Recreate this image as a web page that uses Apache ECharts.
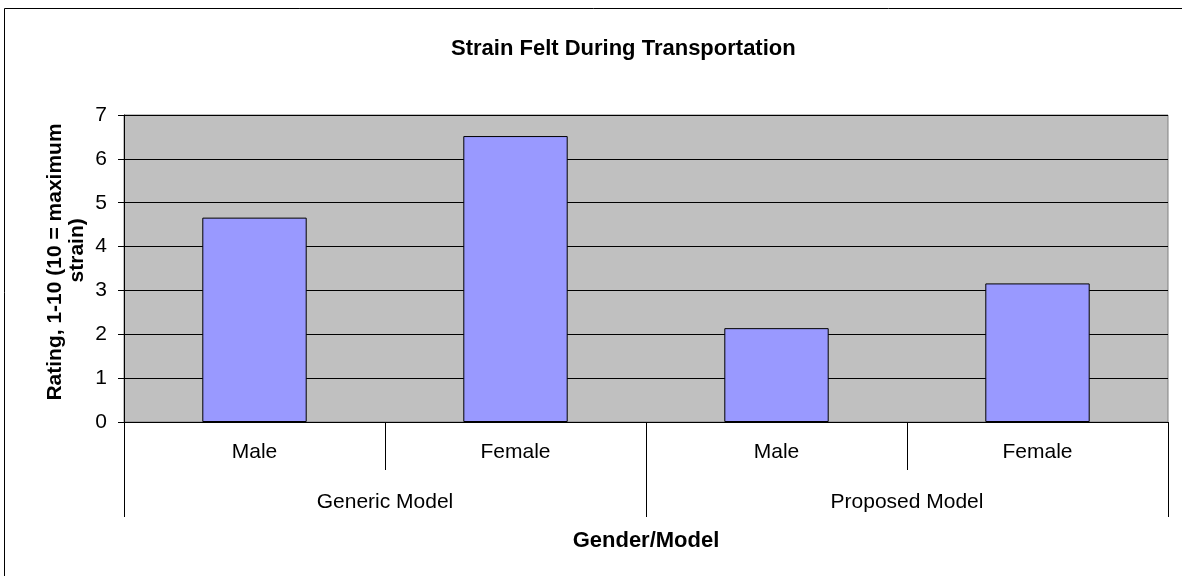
<!DOCTYPE html>
<html>
<head>
    <meta charset="UTF-8">
    <title>Strain Felt During Transportation</title>
    <script src="https://cdn.jsdelivr.net/npm/echarts@6/dist/echarts.min.js"></script>
    <style>
        html, body { margin: 0; padding: 0; background: #fff; }
        #strainChart { width: 1182px; height: 576px; }
    </style>
</head>
<body>
    <div id="strainChart"></div>
    <script type="text/javascript">

        // data
        var genderLabels = ['Male', 'Female', 'Male', 'Female'];
        var modelLabels = ['Generic Model', 'Proposed Model'];
        var strainRatings = [4.66, 6.52, 2.14, 3.16];
        var yTicks = [0, 7, 1]; // min, max, interval
        var yAxisTitle = 'Rating, 1-10 (10 = maximum\n    strain)';

        var fontName = '"Liberation Sans", Arial, sans-serif';

        var mychart = echarts.init(document.getElementById('strainChart'), null, {renderer: 'canvas'});

        var option = {
            backgroundColor: '#fff',
            animation: false,
            title: {
                text: 'Strain Felt During Transportation',
                left: 446,
                top: 33,
                textStyle: {
                    color: '#000',
                    fontFamily: fontName,
                    fontSize: 22,
                    fontWeight: 'bold'
                }
            },
            grid: {
                left: 124,
                right: 14,
                top: 115,
                bottom: 154,
                show: true,
                backgroundColor: '#c0c0c0',
                borderColor: '#808080',
                borderWidth: 1
            },
            xAxis: [
                {
                    type: 'category',
                    position: 'bottom',
                    data: genderLabels,
                    axisLine: { show: true, lineStyle: { color: '#000', width: 1 } },
                    axisTick: { show: true, interval: 0, length: 48, lineStyle: { color: '#000' } },
                    axisLabel: {
                        interval: 0,
                        margin: 20,
                        color: '#000',
                        fontFamily: fontName,
                        fontSize: 21
                    }
                },
                {
                    type: 'category',
                    position: 'bottom',
                    data: modelLabels,
                    name: 'Gender/Model',
                    nameLocation: 'middle',
                    nameGap: 108,
                    nameTextStyle: {
                        color: '#000',
                        fontFamily: fontName,
                        fontSize: 22,
                        fontWeight: 'bold'
                    },
                    axisLine: { show: false },
                    axisTick: { show: true, interval: 0, length: 95, lineStyle: { color: '#000' } },
                    axisLabel: {
                        interval: 0,
                        margin: 70,
                        color: '#000',
                        fontFamily: fontName,
                        fontSize: 21
                    }
                }
            ],
            yAxis: {
                type: 'value',
                min: yTicks[0],
                max: yTicks[1],
                interval: yTicks[2],
                axisLine: { show: true, lineStyle: { color: '#000' } },
                axisTick: { show: true, length: 6, lineStyle: { color: '#000' } },
                axisLabel: {
                    margin: 17,
                    color: '#000',
                    fontFamily: fontName,
                    fontSize: 21
                },
                splitLine: { show: true, lineStyle: { color: '#000', width: 1 } }
            },
            series: [
                {
                    type: 'bar',
                    xAxisIndex: 0,
                    data: strainRatings,
                    barWidth: '40%',
                    itemStyle: {
                        color: '#9999ff',
                        borderColor: '#000',
                        borderWidth: 1
                    }
                }
            ],
            graphic: [
                {
                    type: 'rect',
                    shape: { x: 4.5, y: 8.5, width: 1220, height: 620 },
                    style: { fill: 'none', stroke: '#000', lineWidth: 1 },
                    silent: true
                },
                {
                    // rotated y axis title, placed by hand
                    type: 'text',
                    x: 66,
                    y: 262,
                    rotation: Math.PI / 2,
                    silent: true,
                    style: {
                        text: yAxisTitle,
                        fill: '#000',
                        font: 'bold 21px ' + fontName,
                        lineHeight: 22,
                        align: 'center',
                        verticalAlign: 'middle'
                    }
                }
            ]
        };

        mychart.setOption(option);
    </script>
</body>
</html>
